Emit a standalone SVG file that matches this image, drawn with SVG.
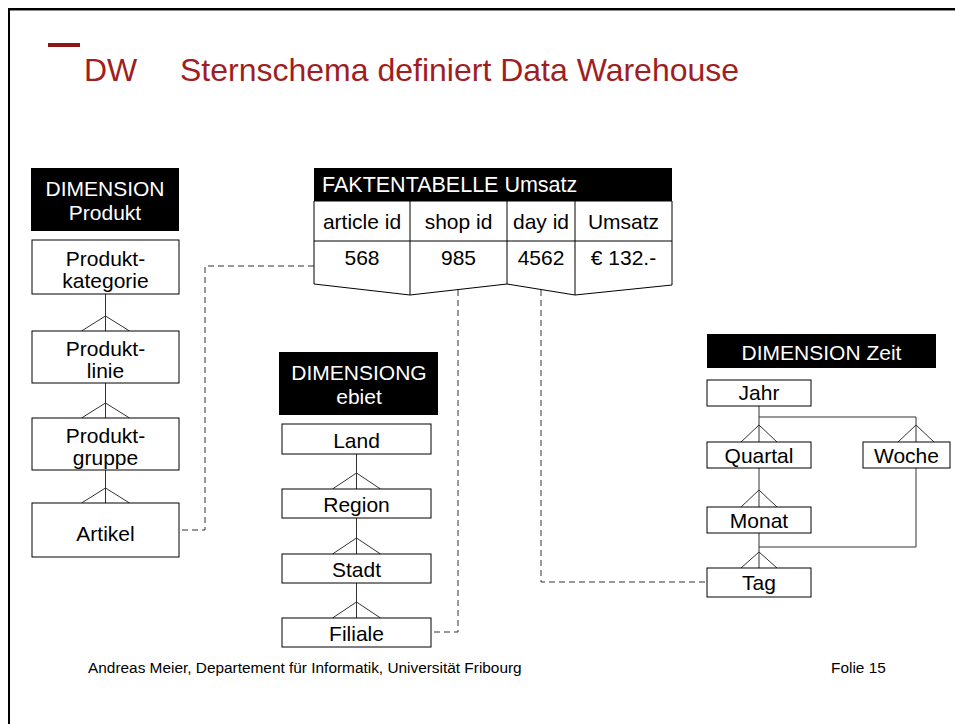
<svg xmlns="http://www.w3.org/2000/svg" width="955" height="724" viewBox="0 0 955 724">
<style>
text{font-family:"Liberation Sans",Arial,sans-serif;}
.t{font-size:21px;fill:#000;text-anchor:middle;}
.w{font-size:21px;fill:#fff;text-anchor:middle;}
.box{fill:#fff;stroke:#000;stroke-width:1;}
.hdr{fill:#000;}
.ln{fill:none;stroke:#333;stroke-width:1;}
.dash{fill:none;stroke:#333;stroke-width:1;stroke-dasharray:6,4;}
.foot{font-size:15.4px;fill:#000;}
</style>
<rect x="0" y="0" width="955" height="724" fill="#fff"/>
<g id="frame">
<path d="M9,724 V9 H955" fill="none" stroke="#000" stroke-width="2"/>
<line x1="10" y1="10.5" x2="955" y2="10.5" stroke="#888" stroke-width="1"/>
</g>
<g id="title">
<rect x="48" y="43" width="32" height="4" fill="#8c1515"/>
<text x="84" y="81" font-size="32" fill="#a01e22">DW</text>
<text x="180" y="81" font-size="32" fill="#a01e22">Sternschema definiert Data Warehouse</text>
</g>
<g id="connectors">
<path class="dash" d="M314,266 H205 V530 H179"/>
<path class="dash" d="M458,290 V632 H431"/>
<path class="dash" d="M541,290 V582 H707"/>
<path class="ln" d="M105.5,294 V331 M81.5,331 L105.5,316 L129.5,331"/>
<path class="ln" d="M105.5,383 V418 M81.5,418 L105.5,403 L129.5,418"/>
<path class="ln" d="M105.5,470 V503 M81.5,503 L105.5,488 L129.5,503"/>
<path class="ln" d="M356.5,454 V489 M332.5,489 L356.5,473 L380.5,489"/>
<path class="ln" d="M356.5,518 V554 M332.5,554 L356.5,538 L380.5,554"/>
<path class="ln" d="M356.5,583 V618 M332.5,618 L356.5,602 L380.5,618"/>
<path class="ln" d="M759,406 V442 M759,417 H916 V442 M741,442 L759,425 L777,442 M898,442 L916,425 L934,442"/>
<path class="ln" d="M759,468 V507 M741,507 L759,490 L777,507"/>
<path class="ln" d="M759,533 V568 M916,468 V547 H759 M741,568 L759,552 L777,568"/>
</g>
<g id="fakt">
<rect class="hdr" x="314" y="168" width="358" height="33"/>
<text x="322" y="192" font-size="21.5" fill="#fff">FAKTENTABELLE Umsatz</text>
<path d="M314,201 V284 L410,295 L507,284 L575,295 L672,285 V201 Z" fill="#fff" stroke="#000" stroke-width="1"/>
<path d="M314,241 H672 M410,201 V295 M507,201 V284 M575,201 V295" fill="none" stroke="#000" stroke-width="1"/>
<text class="t" x="362" y="229">article id</text>
<text class="t" x="458.5" y="229">shop id</text>
<text class="t" x="541" y="229">day id</text>
<text class="t" x="623.5" y="229">Umsatz</text>
<text class="t" x="362" y="265">568</text>
<text class="t" x="458.5" y="265">985</text>
<text class="t" x="541" y="265">4562</text>
<text class="t" x="623.5" y="265">€ 132.-</text>
</g>
<g id="dim-produkt">
<rect class="hdr" x="31" y="168" width="148" height="63"/>
<text class="w" x="105" y="196">DIMENSION</text>
<text class="w" x="105" y="220">Produkt</text>
</g>
<g id="produktkategorie">
<rect class="box" x="32" y="240" width="147" height="54"/>
<text class="t" x="105.5" y="266">Produkt-</text>
<text class="t" x="105.5" y="288">kategorie</text>
</g>
<g id="produktlinie">
<rect class="box" x="32" y="331" width="147" height="52"/>
<text class="t" x="105.5" y="356">Produkt-</text>
<text class="t" x="105.5" y="378">linie</text>
</g>
<g id="produktgruppe">
<rect class="box" x="32" y="418" width="147" height="52"/>
<text class="t" x="105.5" y="443">Produkt-</text>
<text class="t" x="105.5" y="465">gruppe</text>
</g>
<g id="artikel">
<rect class="box" x="32" y="503" width="147" height="54"/>
<text class="t" x="105.5" y="541">Artikel</text>
</g>
<g id="dim-gebiet">
<rect class="hdr" x="279" y="352" width="159" height="63"/>
<text class="w" x="359" y="380">DIMENSIONG</text>
<text class="w" x="359" y="404">ebiet</text>
</g>
<g id="land">
<rect class="box" x="282" y="424" width="149" height="30"/>
<text class="t" x="356.5" y="448">Land</text>
</g>
<g id="region">
<rect class="box" x="282" y="489" width="149" height="29"/>
<text class="t" x="356.5" y="512">Region</text>
</g>
<g id="stadt">
<rect class="box" x="282" y="554" width="149" height="29"/>
<text class="t" x="356.5" y="577">Stadt</text>
</g>
<g id="filiale">
<rect class="box" x="282" y="618" width="149" height="29"/>
<text class="t" x="356.5" y="641">Filiale</text>
</g>
<g id="dim-zeit">
<rect class="hdr" x="707" y="334" width="229" height="34"/>
<text class="w" x="821.5" y="360">DIMENSION Zeit</text>
</g>
<g id="jahr">
<rect class="box" x="707" y="380" width="104" height="26"/>
<text class="t" x="759" y="400">Jahr</text>
</g>
<g id="quartal">
<rect class="box" x="707" y="442" width="104" height="26"/>
<text class="t" x="759" y="463">Quartal</text>
</g>
<g id="woche">
<rect class="box" x="863" y="442" width="87" height="26"/>
<text class="t" x="906.5" y="463">Woche</text>
</g>
<g id="monat">
<rect class="box" x="707" y="507" width="104" height="26"/>
<text class="t" x="759" y="528">Monat</text>
</g>
<g id="tag">
<rect class="box" x="707" y="568" width="104" height="29"/>
<text class="t" x="759" y="590">Tag</text>
</g>
<g id="footer">
<text class="foot" x="88" y="673">Andreas Meier, Departement für Informatik, Universität Fribourg</text>
<text class="foot" x="831" y="673">Folie 15</text>
</g>
</svg>
